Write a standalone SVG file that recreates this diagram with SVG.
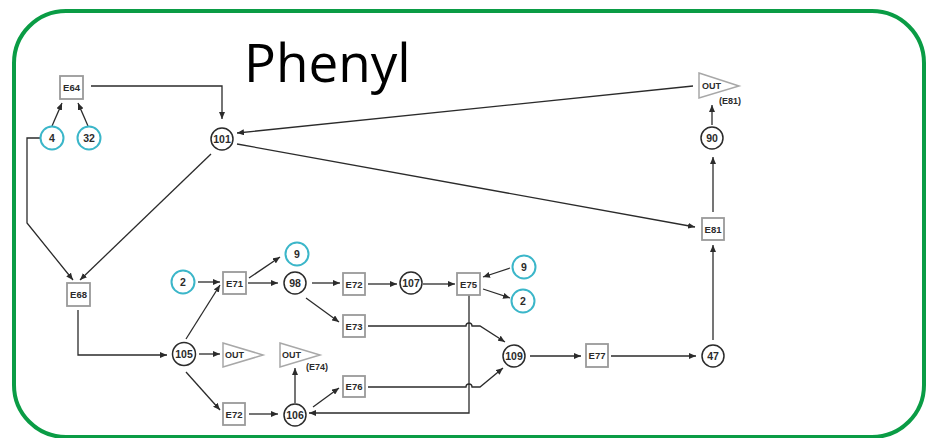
<svg xmlns="http://www.w3.org/2000/svg" width="932" height="438" viewBox="0 0 932 438">
  <defs>
    <marker id="arr" viewBox="0 0 7 6" refX="7" refY="3" markerWidth="7" markerHeight="6" markerUnits="userSpaceOnUse" orient="auto">
      <path d="M0,0 L7,3 L0,6 z" fill="#2b2b2b"/>
    </marker>
    <style>
      .frame { fill: none; stroke: #0a9c45; stroke-width: 4; }
      .title { font-family: "Open Sans", "Noto Sans", sans-serif; font-size: 53px; fill: #000; }
      .edge { fill: none; stroke: #2b2b2b; stroke-width: 1.3; marker-end: url(#arr); }
      .met { fill: #fff; stroke: #2b2b2b; stroke-width: 1.5; }
      .cof { fill: #fff; stroke: #3bb6c9; stroke-width: 2; }
      .enz { fill: #fff; stroke: #9a9a9a; stroke-width: 1.8; }
      .out { fill: #fff; stroke: #a8a8a8; stroke-width: 1.5; }
      .lbl { font-family: "Liberation Sans", Arial, sans-serif; font-weight: bold; font-size: 10.5px; fill: #2b2b2b; text-anchor: middle; dominant-baseline: central; }
      .elbl { font-family: "Liberation Sans", Arial, sans-serif; font-weight: bold; font-size: 9.5px; fill: #2b2b2b; text-anchor: middle; dominant-baseline: central; }
      .olbl { font-family: "Liberation Sans", Arial, sans-serif; font-weight: bold; font-size: 9px; fill: #2b2b2b; dominant-baseline: central; }
    </style>
  </defs>

  <rect class="frame" x="14" y="11" width="910" height="426" rx="52" ry="52"/>
  <text class="title" x="244" y="82">Phenyl</text>

  <!-- connectors -->
  <g id="edges">
    <path class="edge" d="M52,126 L62,103"/>
    <path class="edge" d="M88,126 L78,103"/>
    <path class="edge" d="M91,86 H222 V119"/>
    <path class="edge" d="M40,138 H27 V223 L73,280"/>
    <path class="edge" d="M211,154 L80,280"/>
    <path class="edge" d="M78,310 V355 H167"/>
    <path class="edge" d="M198,282 H220"/>
    <path class="edge" d="M186,339 L220,285"/>
    <path class="edge" d="M249,278 L280,257"/>
    <path class="edge" d="M248,283 H278"/>
    <path class="edge" d="M199,354 H220"/>
    <path class="edge" d="M186,372 L220,410"/>
    <path class="edge" d="M249,414 H278"/>
    <path class="edge" d="M295,403 V368"/>
    <path class="edge" d="M312,283 H340"/>
    <path class="edge" d="M368,284 H397"/>
    <path class="edge" d="M423,284 H455"/>
    <path class="edge" d="M510,268 L483,277"/>
    <path class="edge" d="M483,289 L510,298"/>
    <path class="edge" d="M306,298 L339,322"/>
    <path class="edge" d="M368,326 H466 A3,3 0 0 1 472,326 H480 L505,342"/>
    <path class="edge" d="M313,407 L339,388"/>
    <path class="edge" d="M368,387 H466 A3,3 0 0 1 472,387 H480 L503,368"/>
    <path class="edge" d="M469,295 V413 H309"/>
    <path class="edge" d="M530,356 H581"/>
    <path class="edge" d="M611,356 H696"/>
    <path class="edge" d="M713,340 V245"/>
    <path class="edge" d="M713,212 V157"/>
    <path class="edge" d="M712,125 V105"/>
    <path class="edge" d="M693,86 L237,133"/>
    <path class="edge" d="M237,144 L695,227"/>
  </g>

  <!-- nodes -->
  <g id="n-E64"><rect class="enz" x="60" y="76" width="23" height="23"/><text class="elbl" x="71.5" y="87.5">E64</text></g>
  <g id="n-4"><circle class="cof" cx="52" cy="138" r="11.5"/><text class="lbl" x="52" y="138">4</text></g>
  <g id="n-32"><circle class="cof" cx="89" cy="138" r="11.5"/><text class="lbl" x="89" y="138">32</text></g>
  <g id="n-101"><circle class="met" cx="222" cy="139" r="11"/><text class="lbl" x="222" y="139">101</text></g>
  <g id="n-E68"><rect class="enz" x="67" y="283" width="23" height="23"/><text class="elbl" x="78.5" y="294.5">E68</text></g>
  <g id="n-2a"><circle class="cof" cx="183" cy="282" r="11.5"/><text class="lbl" x="183" y="282">2</text></g>
  <g id="n-E71"><rect class="enz" x="223" y="272" width="23" height="22"/><text class="elbl" x="234.5" y="283">E71</text></g>
  <g id="n-9a"><circle class="cof" cx="297" cy="254" r="11.5"/><text class="lbl" x="297" y="254">9</text></g>
  <g id="n-98"><circle class="met" cx="295" cy="283" r="11"/><text class="lbl" x="295" y="283">98</text></g>
  <g id="n-105"><circle class="met" cx="184" cy="354" r="11.5"/><text class="lbl" x="184" y="354">105</text></g>
  <g id="n-out1"><path class="out" d="M223,343 L263,355 L223,367 z"/><text class="olbl" x="225" y="355">OUT</text></g>
  <g id="n-out2"><path class="out" d="M280,343 L320,355 L280,367 z"/><text class="olbl" x="282" y="355">OUT</text><text class="olbl" x="306" y="367">(E74)</text></g>
  <g id="n-E72b"><rect class="enz" x="223" y="403" width="22" height="22"/><text class="elbl" x="234" y="414">E72</text></g>
  <g id="n-106"><circle class="met" cx="295" cy="415" r="11"/><text class="lbl" x="295" y="415">106</text></g>
  <g id="n-E72a"><rect class="enz" x="343" y="273" width="22" height="22"/><text class="elbl" x="354" y="284">E72</text></g>
  <g id="n-E73"><rect class="enz" x="343" y="315" width="22" height="22"/><text class="elbl" x="354" y="326">E73</text></g>
  <g id="n-E76"><rect class="enz" x="343" y="376" width="22" height="21"/><text class="elbl" x="354" y="386.5">E76</text></g>
  <g id="n-107"><circle class="met" cx="411" cy="283" r="11"/><text class="lbl" x="411" y="283">107</text></g>
  <g id="n-E75"><rect class="enz" x="457" y="273" width="23" height="22"/><text class="elbl" x="468.5" y="284">E75</text></g>
  <g id="n-9b"><circle class="cof" cx="524" cy="267" r="11.5"/><text class="lbl" x="524" y="267">9</text></g>
  <g id="n-2b"><circle class="cof" cx="523" cy="301" r="11.5"/><text class="lbl" x="523" y="301">2</text></g>
  <g id="n-109"><circle class="met" cx="514" cy="356" r="11"/><text class="lbl" x="514" y="356">109</text></g>
  <g id="n-E77"><rect class="enz" x="586" y="344" width="22" height="23"/><text class="elbl" x="597" y="355.5">E77</text></g>
  <g id="n-47"><circle class="met" cx="713" cy="356" r="11"/><text class="lbl" x="713" y="356">47</text></g>
  <g id="n-E81"><rect class="enz" x="702" y="218" width="22" height="22"/><text class="elbl" x="713" y="229">E81</text></g>
  <g id="n-90"><circle class="met" cx="712" cy="138" r="11"/><text class="lbl" x="712" y="138">90</text></g>
  <g id="n-out3"><path class="out" d="M699,73 L739,86 L699,98 z"/><text class="olbl" x="702" y="85.5">OUT</text><text class="olbl" x="719" y="101">(E81)</text></g>
</svg>
